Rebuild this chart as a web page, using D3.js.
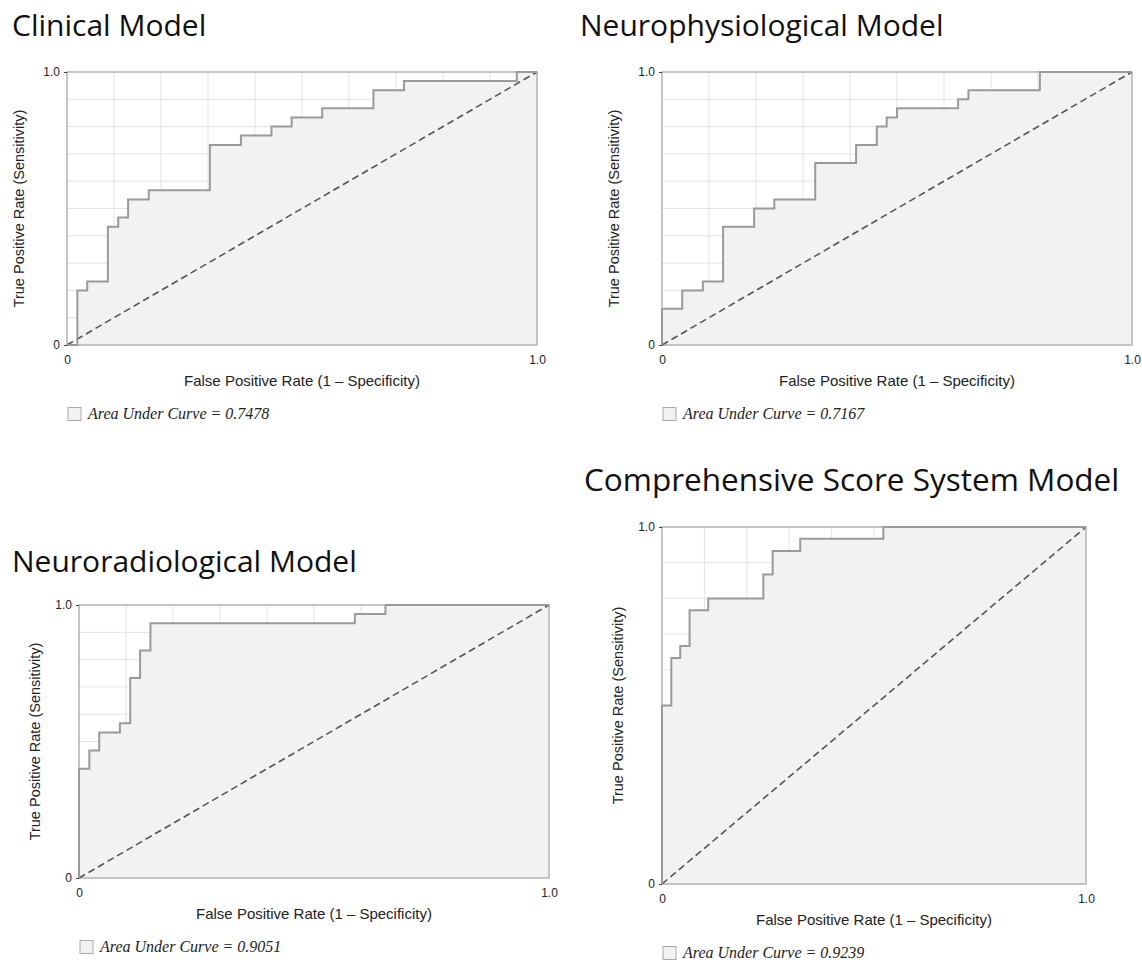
<!DOCTYPE html>
<html><head><meta charset="utf-8">
<script src="https://cdn.jsdelivr.net/npm/d3@7"></script>
<style>body{margin:0;background:#fff;} svg{display:block}</style>
</head><body>
<svg id="c" width="1142" height="960"></svg>
<script>
// ---- data ----
const modelTitles = ["Clinical Model", "Neurophysiological Model", "Neuroradiological Model", "Comprehensive Score System Model"];
const aucLabels = ["0.7478", "0.7167", "0.9051", "0.9239"];

const clinicalFpr = [0, 0.022, 0.043, 0.087, 0.109, 0.130, 0.174, 0.304, 0.370, 0.435, 0.478, 0.543, 0.652, 0.717, 0.957, 1.0];
const clinicalTpr = [0, 0.200, 0.233, 0.433, 0.467, 0.533, 0.567, 0.733, 0.767, 0.800, 0.833, 0.867, 0.933, 0.967, 1.0, 1.0];

const neuroFpr = [0, 0, 0.043, 0.087, 0.130, 0.196, 0.239, 0.326, 0.413, 0.457, 0.478, 0.500, 0.630, 0.652, 0.804, 1.0];
const neuroTpr = [0, 0.133, 0.200, 0.233, 0.433, 0.500, 0.533, 0.667, 0.733, 0.800, 0.833, 0.867, 0.900, 0.933, 1.0, 1.0];

const radioFpr = [0, 0, 0.022, 0.043, 0.087, 0.109, 0.130, 0.152, 0.587, 0.652, 1.0];
const radioTpr = [0, 0.400, 0.467, 0.533, 0.567, 0.733, 0.833, 0.933, 0.967, 1.0, 1.0];

const compFpr = [0, 0, 0.022, 0.043, 0.065, 0.109, 0.239, 0.261, 0.326, 0.522, 1.0];
const compTpr = [0, 0.500, 0.633, 0.667, 0.767, 0.800, 0.867, 0.933, 0.967, 1.0, 1.0];

const axisTicks = [0, 1];
const axisTickLabels = ["0", "1.0"];
const gridTicks = [0.1, 0.2, 0.3, 0.4, 0.5, 0.6, 0.7, 0.8, 0.9];
const xAxisTitle = "False Positive Rate (1 \u2013 Specificity)";
const yAxisTitle = "True Positive Rate (Sensitivity)";

// ---- layout ----
const layouts = [
  {x: 67,  y: 72,  w: 470, h: 273, tx: 12,  ty: 36,  ts: 30,   ylx: 24},
  {x: 662, y: 72,  w: 470, h: 273, tx: 580, ty: 36,  ts: 30,   ylx: 619},
  {x: 79,  y: 605, w: 470, h: 273, tx: 12,  ty: 572, ts: 30,   ylx: 40},
  {x: 662, y: 527, w: 424, h: 357, tx: 584, ty: 491, ts: 31.5, ylx: 623}
];
const series = [
  [clinicalFpr, clinicalTpr],
  [neuroFpr, neuroTpr],
  [radioFpr, radioTpr],
  [compFpr, compTpr]
];

const svg = d3.select("#c");
const sans = "'Liberation Sans', Arial, Helvetica, sans-serif";

layouts.forEach((L, i) => {
  const g = svg.append("g").attr("transform", `translate(${L.x},${L.y})`);
  const x = d3.scaleLinear().domain([0, 1]).range([0, L.w]);
  const y = d3.scaleLinear().domain([0, 1]).range([L.h, 0]);
  const pts = series[i][0].map((f, k) => [f, series[i][1][k]]);

  // title
  svg.append("text").attr("x", L.tx).attr("y", L.ty)
    .attr("font-family", "'Open Sans', sans-serif").attr("font-size", L.ts)
    .attr("fill", "#111").text(modelTitles[i]);

  // grid
  g.append("g").selectAll("line").data(gridTicks).join("line")
    .attr("x1", d => x(d)).attr("x2", d => x(d)).attr("y1", 0).attr("y2", L.h)
    .attr("stroke", "#e3e3e3").attr("stroke-width", 1);
  g.append("g").selectAll("line").data(gridTicks).join("line")
    .attr("y1", d => y(d)).attr("y2", d => y(d)).attr("x1", 0).attr("x2", L.w)
    .attr("stroke", "#e3e3e3").attr("stroke-width", 1);

  // area under the ROC curve
  const area = d3.area().curve(d3.curveStepAfter)
    .x(d => x(d[0])).y0(y(0)).y1(d => y(d[1]));
  g.append("path").datum(pts).attr("d", area).attr("fill", "#f2f2f2");

  // frame
  g.append("rect").attr("x", 0).attr("y", 0).attr("width", L.w).attr("height", L.h)
    .attr("fill", "none").attr("stroke", "#b3b3b3").attr("stroke-width", 1.5);

  // chance diagonal
  g.append("line").attr("x1", x(0)).attr("y1", y(0)).attr("x2", x(1)).attr("y2", y(1))
    .attr("stroke", "#555").attr("stroke-width", 1.6).attr("stroke-dasharray", "7,4");

  // ROC curve
  const line = d3.line().curve(d3.curveStepAfter).x(d => x(d[0])).y(d => y(d[1]));
  g.append("path").datum(pts).attr("d", line).attr("fill", "none")
    .attr("stroke", "#9a9a9a").attr("stroke-width", 2);

  // axes
  const xAxis = d3.axisBottom(x).tickValues(axisTicks).tickFormat((d, k) => axisTickLabels[k]).tickSize(0).tickPadding(10);
  const yAxis = d3.axisLeft(y).tickValues(axisTicks).tickFormat((d, k) => axisTickLabels[k]).tickSize(3).tickPadding(4);
  const gx = g.append("g").attr("transform", `translate(0,${L.h})`).call(xAxis);
  const gy = g.append("g").call(yAxis);
  [gx, gy].forEach(a => {
    a.select(".domain").remove();
    a.selectAll("text").attr("font-family", sans).attr("font-size", 12).attr("fill", "#222");
    a.selectAll("line").attr("stroke", "#444");
  });

  // axis titles
  g.append("text").attr("x", L.w / 2).attr("y", L.h + 41).attr("text-anchor", "middle")
    .attr("font-family", sans).attr("font-size", 15).attr("fill", "#222")
    .text(xAxisTitle);
  svg.append("text").attr("transform", `translate(${L.ylx},${L.y + L.h / 2}) rotate(-90)`)
    .attr("text-anchor", "middle")
    .attr("font-family", sans).attr("font-size", 14.5).attr("fill", "#222")
    .text(yAxisTitle);

  // legend
  const ly = L.y + L.h + 69;
  svg.append("rect").attr("x", L.x + 1).attr("y", ly - 6.5).attr("width", 13).attr("height", 13)
    .attr("fill", "#f2f2f2").attr("stroke", "#aaa").attr("stroke-width", 1);
  svg.append("text").attr("x", L.x + 21).attr("y", ly + 5)
    .attr("font-family", "'Liberation Serif', 'Times New Roman', serif").attr("font-style", "italic")
    .attr("font-size", 16).attr("fill", "#222")
    .text("Area Under Curve = " + aucLabels[i]);
});
</script>
</body></html>
